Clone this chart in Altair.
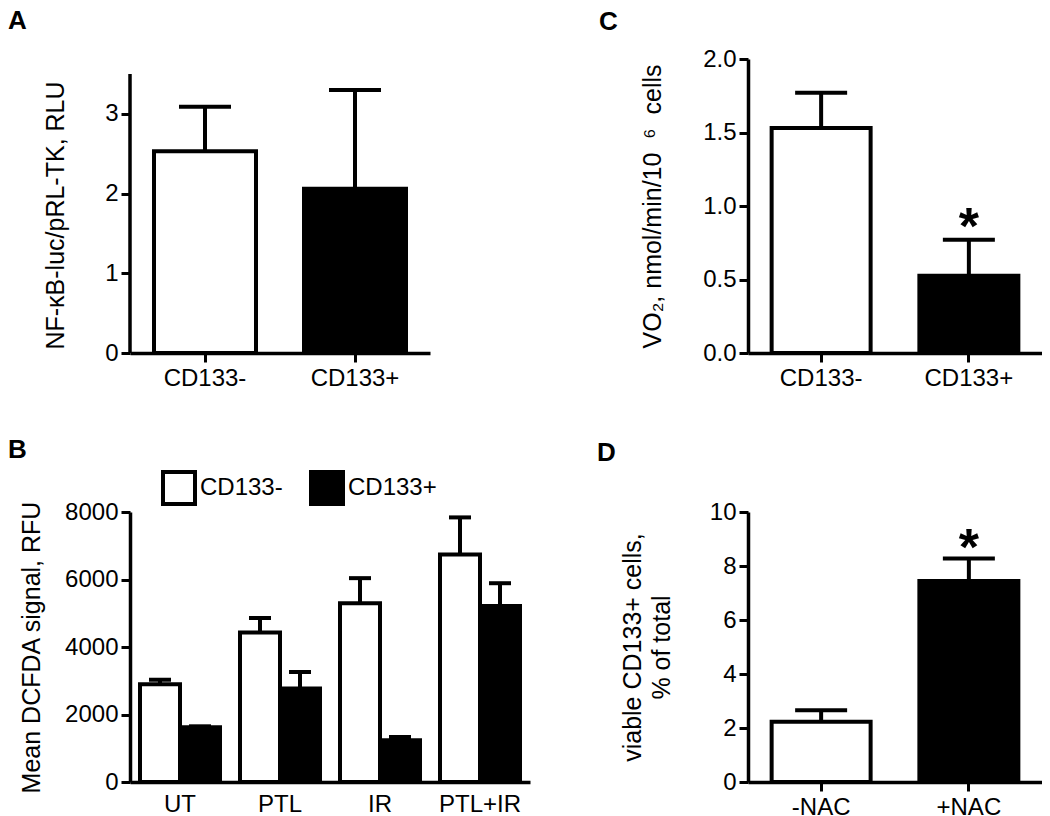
import altair as alt
import pandas as pd

FONT = "Liberation Sans"

# ---------- data ----------
a_groups = ["CD133-", "CD133+"]
a_mean = [2.53, 2.06]
a_upper = [3.09, 3.30]

c_groups = ["CD133-", "CD133+"]
c_mean = [1.53, 0.525]
c_upper = [1.77, 0.77]
c_star_group = ["CD133+"]
c_star_y = [0.92]

b_conditions = ["UT", "PTL", "IR", "PTL+IR"]
b_series = ["CD133-", "CD133+"]
b_neg_mean = [2900, 4430, 5300, 6740]
b_neg_upper = [3030, 4860, 6040, 7840]
b_pos_mean = [1620, 2770, 1235, 5215]
b_pos_upper = [1650, 3260, 1333, 5890]

d_groups = ["-NAC", "+NAC"]
d_mean = [2.23, 7.44]
d_upper = [2.66, 8.28]
d_star_group = ["+NAC"]
d_star_y = [9.0]

bar_fills = ["white", "black"]


def panel_title(letter, dx, offset):
    return alt.TitleParams(letter, anchor="start", frame="group", font=FONT,
                           fontSize=26, fontWeight="bold", color="black",
                           dx=dx, offset=offset)


def two_bar(groups, means, uppers, ytitle, ydomain, yvalues, height, width,
            fmt, title, title_pad, star_groups=None, star_ys=None,
            axis_rule=None, p_in=1/3, p_out=1/6, title_y=None, line_h=None):
    df = pd.DataFrame({"group": groups, "mean": means, "upper": uppers,
                       "fill": bar_fills})
    x = alt.X("group:N", sort=groups,
              scale=alt.Scale(paddingInner=p_in, paddingOuter=p_out),
              axis=alt.Axis(title=None, labelAngle=0, labelPadding=4))
    yscale = alt.Scale(domain=ydomain, nice=False, zero=True)
    ax_kw = dict(title=ytitle, values=yvalues, format=fmt,
                 titlePadding=title_pad, domain=axis_rule is None)
    if title_y is not None:
        ax_kw["titleY"] = title_y
    if line_h is not None:
        ax_kw["titleLineHeight"] = line_h
    yaxis = alt.Axis(**ax_kw)
    base = alt.Chart(df)
    err = base.mark_rule(strokeWidth=4, color="black").encode(
        x=x, y=alt.Y("mean:Q", scale=yscale, axis=yaxis), y2="upper:Q")
    cap = base.mark_tick(thickness=4, size=52, color="black", opacity=1).encode(
        x=x, y=alt.Y("upper:Q", scale=yscale))
    bars = base.mark_bar(stroke="black", strokeWidth=4).encode(
        x=x, y=alt.Y("mean:Q", scale=yscale, axis=yaxis),
        fill=alt.Fill("fill:N", scale=None))
    layers = [err, cap, bars]
    if axis_rule is not None:
        rdf = pd.DataFrame({"y0": [0], "y1": [axis_rule]})
        layers.append(alt.Chart(rdf).mark_rule(strokeWidth=3.5, color="black").encode(
            x=alt.value(0), y=alt.Y("y0:Q", scale=yscale), y2="y1:Q"))
    if star_groups is not None:
        sdf = pd.DataFrame({"group": star_groups, "y": star_ys, "t": ["*"] * len(star_ys)})
        layers.append(alt.Chart(sdf).mark_text(font=FONT, fontSize=52, fontWeight="bold",
                                               baseline="middle", dy=10, color="black").encode(
            x=x, y=alt.Y("y:Q", scale=yscale), text="t:N"))
    return alt.layer(*layers).properties(width=width, height=height, title=title)


H_TOP = 294
A = two_bar(a_groups, a_mean, a_upper, "NF-κB-luc/pRL-TK, RLU",
            [0, 3.5 * 294 / 279], [0, 1, 2, 3], H_TOP, 300, "d",
            panel_title("A", -122, 25), 36, axis_rule=3.5, p_in=0.32, p_out=0.16,
            title_y=156)
C = two_bar(c_groups, c_mean, c_upper, "VO₂, nmol/min/10\u00a0\u00a0⁶\u00a0\u00a0cells",
            [0, 2], [0, 0.5, 1.0, 1.5, 2.0], H_TOP, 294, ".1f",
            panel_title("C", -149, 12), 37, star_groups=c_star_group, star_ys=c_star_y,
            p_in=0.33, p_out=0.16)
D = two_bar(d_groups, d_mean, d_upper, ["viable CD133+ cells,", "% of total"],
            [0, 10], [0, 2, 4, 6, 8, 10], 270, 294, "d",
            panel_title("D", -151, 34), 35, star_groups=d_star_group, star_ys=d_star_y,
            p_in=0.33, p_out=0.16, line_h=29)

# ---------- panel B ----------
rows = []
for i, cnd in enumerate(b_conditions):
    rows.append({"cond": cnd, "series": "CD133-", "mean": b_neg_mean[i], "upper": b_neg_upper[i]})
    rows.append({"cond": cnd, "series": "CD133+", "mean": b_pos_mean[i], "upper": b_pos_upper[i]})
bdf = pd.DataFrame(rows)
bx = alt.X("cond:N", sort=b_conditions, scale=alt.Scale(paddingInner=0.2, paddingOuter=0.1),
           axis=alt.Axis(title=None, labelAngle=0, ticks=False, labelPadding=10))
bxo = alt.XOffset("series:N", sort=b_series, scale=alt.Scale(paddingInner=0, paddingOuter=0))
byscale = alt.Scale(domain=[0, 8000], nice=False)
byaxis = alt.Axis(title="Mean DCFDA signal, RFU", values=[0, 2000, 4000, 6000, 8000],
                  format="d", titlePadding=20)
bbase = alt.Chart(bdf)
b_err = bbase.mark_rule(strokeWidth=4, color="black").encode(
    x=bx, xOffset=bxo, y=alt.Y("mean:Q", scale=byscale, axis=byaxis), y2="upper:Q")
b_cap = bbase.mark_tick(thickness=4, size=22, color="black", opacity=1).encode(
    x=bx, xOffset=bxo, y=alt.Y("upper:Q", scale=byscale))
b_bars = bbase.mark_bar(stroke="black", strokeWidth=4).encode(
    x=bx, xOffset=bxo, y=alt.Y("mean:Q", scale=byscale, axis=byaxis),
    fill=alt.Fill("series:N", scale=alt.Scale(domain=b_series, range=bar_fills),
                  legend=alt.Legend(title=None, orient="none", direction="horizontal",
                                    legendX=31, legendY=411, symbolType="square",
                                    symbolSize=1024, symbolStrokeColor="black",
                                    symbolStrokeWidth=4, labelFont=FONT, labelFontSize=24,
                                    labelColor="black", labelOffset=3, columnPadding=20,
                                    padding=0)))
B = alt.layer(b_err, b_cap, b_bars).properties(width=400, height=270,
                                                title=panel_title("B", -122, 37))

left = alt.vconcat(A, B, spacing=159, bounds="flush")
right = alt.vconcat(C, D, spacing=159, bounds="flush")
chart = alt.hconcat(left, right, spacing=618, bounds="flush").properties(
    padding=0
).configure_view(stroke=None).configure_axis(
    domainColor="black", domainWidth=3.5, tickColor="black", tickWidth=3, tickSize=9,
    labelFont=FONT, labelFontSize=24, labelColor="black", labelPadding=3,
    titleFont=FONT, titleFontSize=25, titleFontWeight="normal", titleColor="black",
    grid=False
).configure_axisY(titleAngle=-90)

chart.save("out.html", embed_options={"renderer": "svg", "actions": False})
